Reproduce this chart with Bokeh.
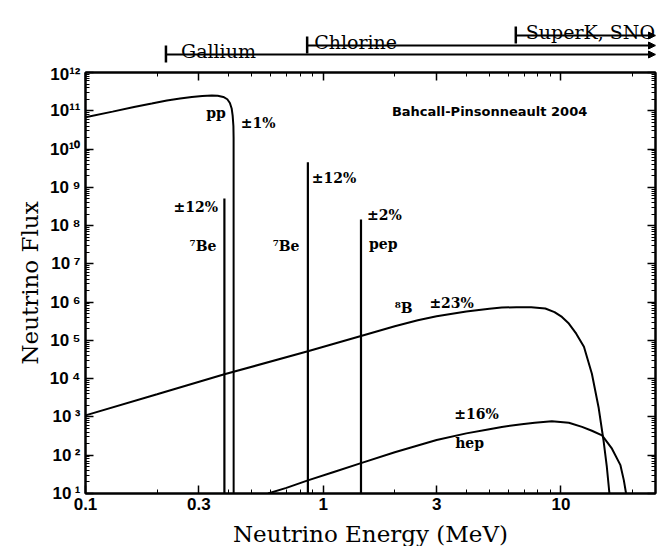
from bokeh.plotting import figure
from bokeh.layouts import column
from bokeh.models import (Range1d, FixedTicker, LogAxis, CustomJSTickFormatter,
                          ColumnDataSource, Arrow, NormalHead)
from bokeh.core.properties import value
from bokeh.embed import file_html
from bokeh.resources import INLINE

# ---------------- data ----------------
x_min, x_max = 0.1, 25.0
y_min, y_max = 10.0, 1e12

pp_energy = [0.1, 0.13, 0.16, 0.19, 0.22, 0.25, 0.28, 0.31, 0.34, 0.36, 0.38, 0.395,
             0.405, 0.412, 0.416, 0.419, 0.4198, 0.42]
pp_flux = [6.8e10, 9.5e10, 1.26e11, 1.55e11, 1.86e11, 2.1e11, 2.3e11, 2.43e11, 2.5e11,
           2.48e11, 2.3e11, 2.0e11, 1.6e11, 1.15e11, 7.5e10, 4e10, 2e10, 10]

b8_energy = [0.1, 0.2, 0.384, 0.862, 1.442, 2, 2.5, 3, 4, 5, 5.64, 6.5, 7.5, 8.6, 9.4,
             10.1, 10.8, 11.6, 12.5, 13.5, 14.4, 15.1, 15.6, 16.0]
b8_flux = [1.1e3, 3.9e3, 1.3e4, 5.2e4, 1.3e5, 2.35e5, 3.35e5, 4.3e5, 5.7e5, 6.7e5, 7.2e5,
           7.4e5, 7.3e5, 6.8e5, 5.5e5, 4.1e5, 2.75e5, 1.5e5, 6.8e4, 1.35e4, 1.8e3, 2.5e2,
           50, 10]

hep_energy = [0.586, 0.7, 0.862, 1.1, 1.442, 2, 2.5, 3, 4, 5, 5.64, 6.84, 7.76, 9.16,
              10.8, 12.27, 13.5, 14.9, 16.4, 17.8, 18.4, 18.8]
hep_flux = [10, 14, 22, 36, 62, 120, 180, 250, 372, 480, 550, 646, 708, 776, 708, 550,
            437, 331, 148, 55, 22, 10]

line_energy = [0.384, 0.862, 1.442]          # 7Be, 7Be, pep
line_flux = [5.1e8, 4.5e9, 1.45e8]

x_major = [0.1, 0.3, 1, 3, 10]
x_minor = [0.2, 0.4, 0.5, 0.6, 0.7, 0.8, 0.9, 2, 4, 5, 6, 7, 8, 9, 20]
y_major = [10.0 ** k for k in range(1, 13)]
y_minor = [m * 10.0 ** k for k in range(1, 12) for m in range(2, 10)]

label_text = ["pp", "\u00b11%", "\u00b112%", "\u2077Be", "\u2077Be", "\u00b112%",
              "\u00b12%", "pep", "\u2078B", "\u00b123%", "\u00b116%", "hep"]
label_x = [0.354, 0.532, 0.291, 0.312, 0.698, 1.11, 1.81, 1.79, 2.18, 3.47, 4.42, 4.13]
label_y = [8.5e10, 4.7e10, 3.0e8, 3.0e7, 3.0e7, 1.8e9, 1.85e8, 3.4e7, 6.9e5, 9.3e5, 1.17e3, 206]

model_text = "Bahcall-Pinsonneault 2004"
model_x, model_y = 5.01, 9.6e10

detector_names = ["Gallium", "Chlorine", "SuperK, SNO"]
detector_thresholds = [0.218, 0.856, 6.46]

# ---------------- styles / layout ----------------
LEFT, RIGHT = 85, 7
FRAME_W, FRAME_H = 570, 421
TOP_H = 64
detector_levels = [54, 45, 35]   # pixel level of each bar in the header strip
detector_text_dx = [15, 7, 10]

shared_x = Range1d(x_min, x_max)

top = figure(frame_width=FRAME_W, frame_height=TOP_H, x_axis_type="log",
             x_range=shared_x, y_range=Range1d(TOP_H, 0),
             x_axis_location=None, y_axis_location=None,
             min_border_left=LEFT, min_border_right=RIGHT, min_border_top=0, min_border_bottom=0,
             outline_line_color=None, toolbar_location=None, output_backend="svg")
top.grid.visible = False

src_top = ColumnDataSource(dict(
    x=detector_thresholds, xe=[x_max] * 3, y=detector_levels,
    y0=[lv - 9 for lv in detector_levels], y1=[lv + 8 for lv in detector_levels],
    yt=[lv - 4 for lv in detector_levels], name=detector_names, dx=detector_text_dx))
top.segment(x0="x", y0="y0", x1="x", y1="y1", source=src_top, line_color="black", line_width=2.5)
top.add_layout(Arrow(end=NormalHead(size=7, fill_color="black", line_color="black", line_width=1),
                     x_start="x", y_start="y", x_end="xe", y_end="y",
                     source=src_top, line_color="black", line_width=2))
top.text(x="x", y="yt", text="name", x_offset="dx", source=src_top,
         text_font=value("DejaVu Serif"), text_font_size="19px",
         text_baseline="alphabetic", text_align="left", text_color="black")

# ---------------- main plot ----------------
p = figure(frame_width=FRAME_W, frame_height=FRAME_H, x_axis_type="log", y_axis_type="log",
           x_range=shared_x, y_range=Range1d(y_min, y_max),
           min_border_left=LEFT, min_border_right=RIGHT, min_border_top=8, min_border_bottom=53,
           toolbar_location=None, output_backend="svg")
p.grid.visible = False
p.outline_line_color = "black"
p.outline_line_width = 2

xticker = FixedTicker(ticks=x_major, minor_ticks=x_minor)
yticker = FixedTicker(ticks=y_major, minor_ticks=y_minor)

y_fmt = CustomJSTickFormatter(code="""
const sup = {"0":"\u2070","1":"\u00b9","2":"\u00b2","3":"\u00b3","4":"\u2074",
             "5":"\u2075","6":"\u2076","7":"\u2077","8":"\u2078","9":"\u2079"};
const e = String(Math.round(Math.log10(tick)));
const s = e.split("").map(c => sup[c]).join("");
return "10" + (e.length == 1 ? "\u2009" : "") + s;
""")
x_fmt = CustomJSTickFormatter(code="return String(tick);")
blank_fmt = CustomJSTickFormatter(code="return '';")

def style_axis(ax, ticker):
    ax.ticker = ticker
    ax.axis_line_width = 2
    ax.axis_line_color = "black"
    ax.major_tick_in = 8
    ax.major_tick_out = 0
    ax.minor_tick_in = 4
    ax.minor_tick_out = 0
    ax.major_tick_line_width = 1.5
    ax.minor_tick_line_width = 1
    ax.major_tick_line_color = "black"
    ax.minor_tick_line_color = "black"

xa = p.xaxis[0]
style_axis(xa, xticker)
xa.formatter = x_fmt
xa.major_label_text_font = "Liberation Sans"
xa.major_label_text_font_style = "bold"
xa.major_label_text_font_size = "17px"
xa.major_label_text_color = "black"
xa.major_label_standoff = 4
xa.axis_label = "Neutrino Energy (MeV)"
xa.axis_label_text_font = "DejaVu Serif"
xa.axis_label_text_font_style = "normal"
xa.axis_label_text_font_size = "23px"
xa.axis_label_text_color = "black"
xa.axis_label_standoff = 8

ya = p.yaxis[0]
style_axis(ya, yticker)
ya.formatter = y_fmt
ya.major_label_text_font = "Liberation Sans"
ya.major_label_text_font_style = "bold"
ya.major_label_text_font_size = "17px"
ya.major_label_text_color = "black"
ya.major_label_standoff = 5
ya.axis_label = "Neutrino Flux"
ya.axis_label_text_font = "DejaVu Serif"
ya.axis_label_text_font_style = "normal"
ya.axis_label_text_font_size = "23px"
ya.axis_label_text_color = "black"
ya.axis_label_standoff = 4

top_ax = LogAxis()
style_axis(top_ax, xticker)
top_ax.formatter = blank_fmt
top_ax.major_label_standoff = 0
p.add_layout(top_ax, "above")

right_ax = LogAxis()
style_axis(right_ax, yticker)
right_ax.formatter = blank_fmt
right_ax.major_label_standoff = 0
p.add_layout(right_ax, "right")

# curves
p.line(pp_energy, pp_flux, line_color="black", line_width=2)
p.line(b8_energy, b8_flux, line_color="black", line_width=2)
p.line(hep_energy, hep_flux, line_color="black", line_width=2)
p.segment(x0=line_energy, y0=[y_min] * len(line_energy), x1=line_energy, y1=line_flux,
          line_color="black", line_width=2.2)

# labels
p.text(x=label_x, y=label_y, text=label_text, text_font=value("DejaVu Serif"),
       text_font_size="14px", text_font_style="bold", text_align="center",
       text_baseline="middle", text_color="black")
p.text(x=[model_x], y=[model_y], text=[model_text], text_font=value("DejaVu Sans"),
       text_font_size="13px", text_font_style="bold", text_align="center",
       text_baseline="middle", text_color="black")

layout = column(top, p, spacing=0)
open("out.html", "w").write(file_html(layout, INLINE))
